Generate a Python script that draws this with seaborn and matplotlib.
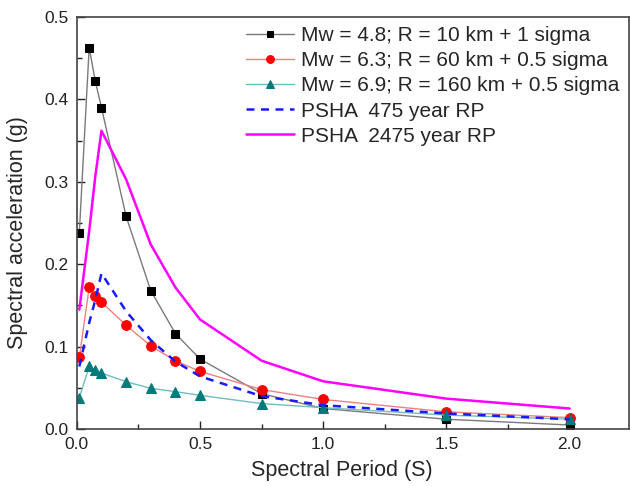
import numpy as np
import pandas as pd
import seaborn as sns
import matplotlib
matplotlib.use("Agg")
import matplotlib.pyplot as plt
from matplotlib.ticker import MultipleLocator, FormatStrFormatter

# spectral periods (s)
period = [0.01, 0.05, 0.075, 0.1, 0.2, 0.3, 0.4, 0.5, 0.75, 1.0, 1.5, 2.0]

# scenario spectra (g)
sa_m48 = [0.238, 0.463, 0.422, 0.390, 0.258, 0.168, 0.116, 0.085, 0.043, 0.025, 0.012, 0.005]
sa_m63 = [0.087, 0.172, 0.162, 0.154, 0.126, 0.101, 0.083, 0.070, 0.048, 0.036, 0.021, 0.014]
sa_m69 = [0.038, 0.076, 0.072, 0.068, 0.0575, 0.0495, 0.0455, 0.041, 0.031, 0.026, 0.017, 0.012]

# uniform hazard spectra (g)
psha_475 = [0.076, 0.129, 0.157, 0.189, 0.143, 0.108, 0.082, 0.064, 0.040, 0.029, 0.019, 0.012]
psha_2475 = [0.145, 0.240, 0.307, 0.362, 0.303, 0.224, 0.172, 0.133, 0.083, 0.058, 0.037, 0.025]

labels = ["Mw = 4.8; R = 10 km + 1 sigma",
          "Mw = 6.3; R = 60 km + 0.5 sigma",
          "Mw = 6.9; R = 160 km + 0.5 sigma",
          "PSHA  475 year RP",
          "PSHA  2475 year RP"]

sns.set_style("ticks")
plt.rcParams['font.family'] = ['Liberation Sans', 'DejaVu Sans']

fig = plt.figure(figsize=(6.3, 4.86), dpi=100)
ax = fig.add_axes([0.122, 0.117, 0.876, 0.848])

df = pd.DataFrame({'T': period, 'a': sa_m48, 'b': sa_m63, 'c': sa_m69,
                   'd': psha_475, 'e': psha_2475})

sns.lineplot(x='T', y='a', data=df, ax=ax, color='#7a7a7a', lw=1,
             marker='s', markersize=6, markerfacecolor='black',
             markeredgecolor='black', label=labels[0])
sns.lineplot(x='T', y='b', data=df, ax=ax, color='#f08080', lw=1,
             marker='o', markersize=7, markerfacecolor='red',
             markeredgecolor='red', label=labels[1])
sns.lineplot(x='T', y='c', data=df, ax=ax, color='#70bdbd', lw=1,
             marker='^', markersize=7.5, markerfacecolor='#007b7b',
             markeredgecolor='#007b7b', label=labels[2])
sns.lineplot(x='T', y='d', data=df, ax=ax, color='#1a1aff', lw=1.8,
             linestyle=(0, (3.2, 2.6)), label=labels[3])
sns.lineplot(x='T', y='e', data=df, ax=ax, color='#ff00ff', lw=1.8,
             label=labels[4])

ax.set_xlim(0, 2.24)
ax.set_ylim(0, 0.5)
ax.xaxis.set_major_locator(MultipleLocator(0.5))
ax.xaxis.set_minor_locator(MultipleLocator(0.25))
ax.yaxis.set_major_locator(MultipleLocator(0.1))
ax.yaxis.set_minor_locator(MultipleLocator(0.05))
ax.xaxis.set_major_formatter(FormatStrFormatter('%.1f'))
ax.yaxis.set_major_formatter(FormatStrFormatter('%.1f'))
ax.tick_params(which='both', direction='in', top=False, right=False,
               labelsize=12.5, colors='#222222', pad=6)
ax.tick_params(which='major', length=6, width=1)
ax.tick_params(which='minor', length=3.5, width=1)

ax.set_xlabel('Spectral Period (S)', fontsize=15.5)
ax.set_ylabel('Spectral acceleration (g)', fontsize=15.5)
ax.xaxis.set_label_coords(0.48, -0.075)
ax.yaxis.set_label_coords(-0.088, 0.478)

for sp in ax.spines.values():
    sp.set_visible(True)
    sp.set_color('#444444')
    sp.set_linewidth(1.2)

ax.legend(loc='upper right', frameon=False, fontsize=15, handlelength=2.3,
          borderaxespad=0.05, labelspacing=0.29, handletextpad=0.35,
          markerscale=0.8)

fig.savefig('out.png', dpi=100)
